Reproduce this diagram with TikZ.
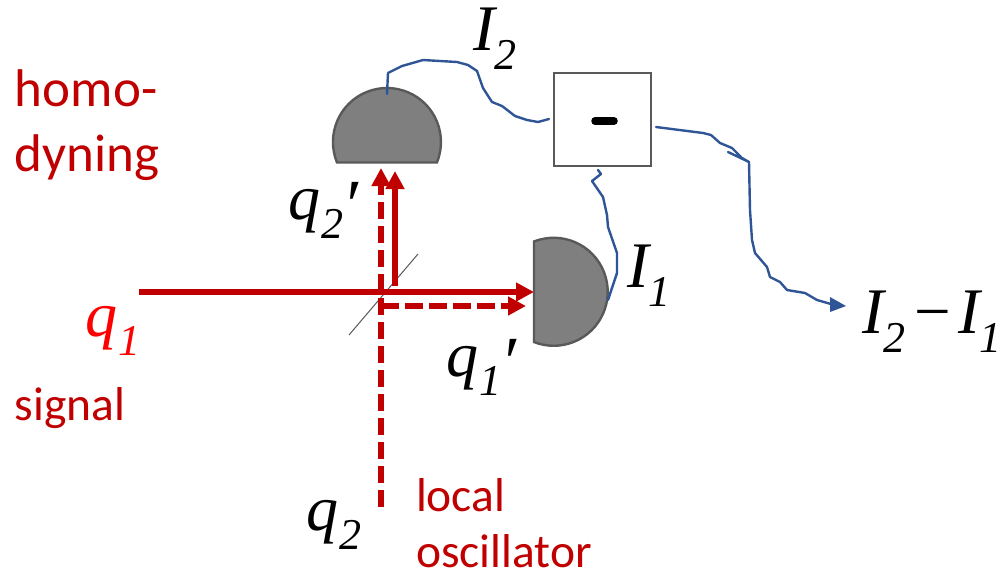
\documentclass[tikz,border=0pt]{standalone}
\usepackage{fontspec}
\setmainfont{Carlito}
\newfontfamily\timesf{Liberation Serif}
\usetikzlibrary{arrows.meta}
\definecolor{beam}{RGB}{192,0,0}
\definecolor{wire}{RGB}{47,85,151}
\definecolor{detfill}{RGB}{127,127,127}
\definecolor{detline}{RGB}{89,89,89}
\newcommand{\sym}[2]{{\timesf\itshape\fontsize{#1}{#1}\selectfont #2}}
\newcommand{\subs}[1]{\raisebox{-0.3em}{\fontsize{44}{44}\selectfont #1}}
\newcommand{\primemark}{\hspace{-1pt}\raisebox{-10pt}{\fontsize{72}{72}\selectfont ′}}
\tikzset{
  every node/.style={inner sep=0pt,outer sep=0pt},
  beamsolid/.style={draw=beam,line width=6pt,-{Triangle[length=18pt,width=18pt]}},
  beamdash/.style={draw=beam,line width=6pt,dash pattern=on 17.5pt off 6.5pt,-{Triangle[length=18pt,width=18pt]}},
  wireline/.style={draw=wire,line width=2.4pt,line join=round,line cap=round},
  detector/.style={draw=detline,fill=detfill,line width=2.4pt},
  redlabel/.style={text=beam,font=\fontsize{47.5}{50}\selectfont,anchor=base west,align=left},
  redlarge/.style={redlabel,font=\fontsize{53}{56}\selectfont},
  mathlabel/.style={anchor=base west,text=black}
}
\begin{document}
\begin{tikzpicture}[x=1pt,y=-1pt]
\useasboundingbox (0,0) rectangle (1005,574);
% beam splitter
\coordinate (bsA) at (349,335);
\coordinate (bsB) at (418,254);
\draw[draw=detline,line width=1pt] (bsA) -- (bsB);
% detectors
\draw[detector] (337,162.5) arc[start angle=157.7,end angle=382.3,radius=54] -- cycle;
\draw[detector] (534,241.5) arc[start angle=-111.4,end angle=111.4,radius=54] -- cycle;
\coordinate (det2) at (387,94);
\coordinate (det1) at (608,300);
% subtractor
\node[draw=detline,line width=2.4pt,fill=white,minimum width=97pt,minimum height=93pt] (sub) at (602.5,119.5) {};
\draw[line width=7.5pt,line cap=round,draw=black] (595,121) -- (614,121);
% beams
\coordinate (q1start) at (139,292);
\coordinate (q1end) at (534,292);
\coordinate (q1pstart) at (381,306);
\coordinate (q1pend) at (526,306);
\coordinate (q2start) at (381,507);
\coordinate (q2end) at (381,168);
\coordinate (q2pstart) at (395,286);
\coordinate (q2pend) at (395,171);
\draw[beamdash] (q2start) -- (q2end);
\draw[beamsolid] (q1start) -- (q1end);
\draw[beamsolid] (q2pstart) -- (q2pend);
\draw[beamdash] (q1pstart) -- (q1pend);
% wires
\draw[wireline] (det2) -- (388,73) -- (402,66) -- (423,60) -- (457,62) -- (468,65) -- (477,71) -- (483,88) -- (492,102) -- (502,106) -- (515,116) -- (527,120) -- (538,122) -- (549,119);
\draw[wireline] (598,170) -- (601,174) -- (592,181) -- (603,197) -- (607,215) -- (608,227) -- (617,253) -- (617,273) -- (det1);
\coordinate (out) at (846,306);
\draw[wireline] (656,127) -- (703,133) -- (711,135) -- (720,143) -- (732,148) -- (742,158) -- (749,162) -- (728,152);
\draw[wireline] (749,162) -- (750,210) -- (752,240) -- (755,253) -- (767,267) -- (770,277) -- (780,282) -- (787,290) -- (805,293) -- (817,300) -- (831,304);
\fill[wire] (out) -- (830,297) -- (830,312) -- cycle;
% texts
\node[redlarge] (homo) at (15,106) {homo-};
\node[redlarge] (dyn) at (15,171) {dyning};
\node[redlabel] (sig) at (15,420) {signal};
\node[redlabel] (loc) at (416,511) {local};
\node[redlabel] (osc) at (416,567) {oscillator};
\node[mathlabel,text=red] (q1) at (85,336) {\sym{64}{q\hspace{1.5pt}\subs{1}}};
\node[mathlabel] (q2p) at (288,219) {\sym{64}{q\hspace{1.5pt}\subs{2}\primemark}};
\node[mathlabel] (q1p) at (446,376) {\sym{64}{q\hspace{1.5pt}\subs{1}\primemark}};
\node[mathlabel] (q2) at (306,530) {\sym{64}{q\hspace{1.5pt}\subs{2}}};
\node[mathlabel] (I2) at (473,50) {\sym{65}{I\subs{2}}};
\node[mathlabel] (I1) at (627,287) {\sym{65}{I\subs{1}}};
\node[mathlabel] (diff) at (862,333) {\sym{65}{I\subs{2}\hspace{9pt}{\upshape −}\hspace{7pt}I\subs{1}}};
\end{tikzpicture}
\end{document}
